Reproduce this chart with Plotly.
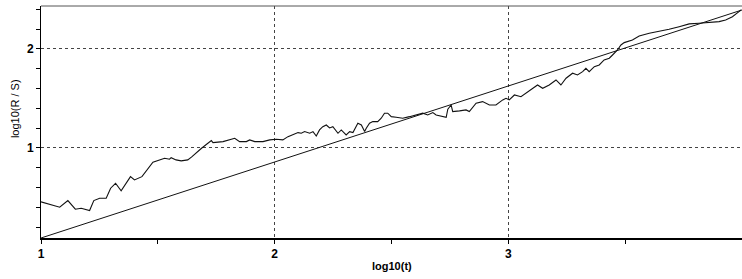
import plotly.graph_objects as go

# Rescaled range curve: log10(t) vs log10(R/S)
log_t = [1.000, 1.080, 1.115, 1.147, 1.172, 1.208, 1.226, 1.251, 1.279, 1.298,
         1.319, 1.343, 1.383, 1.400, 1.432, 1.457, 1.479, 1.529, 1.550, 1.557,
         1.578, 1.600, 1.628, 1.645, 1.667, 1.687, 1.729, 1.736, 1.779, 1.829,
         1.850, 1.879, 1.893, 1.915, 1.950, 1.979, 2.007, 2.035, 2.057, 2.078,
         2.100, 2.114, 2.128, 2.150, 2.164, 2.178, 2.192, 2.206, 2.221, 2.235,
         2.249, 2.271, 2.285, 2.306, 2.321, 2.335, 2.356, 2.371, 2.385, 2.392,
         2.406, 2.420, 2.441, 2.456, 2.470, 2.484, 2.499, 2.520, 2.548, 2.577,
         2.606, 2.634, 2.655, 2.677, 2.691, 2.719, 2.734, 2.741, 2.755, 2.762,
         2.777, 2.791, 2.819, 2.833, 2.862, 2.890, 2.919, 2.947, 2.976, 2.990,
         3.004, 3.026, 3.054, 3.076, 3.097, 3.125, 3.147, 3.175, 3.204, 3.225,
         3.247, 3.275, 3.296, 3.318, 3.332, 3.346, 3.368, 3.389, 3.410, 3.432,
         3.446, 3.467, 3.482, 3.496, 3.531, 3.560, 3.603, 3.645, 3.688, 3.731,
         3.774, 3.816, 3.859, 3.902, 3.930, 3.959, 3.987, 3.996]
log_rs = [0.455, 0.401, 0.468, 0.381, 0.391, 0.367, 0.468, 0.492, 0.492, 0.593,
          0.643, 0.566, 0.710, 0.677, 0.710, 0.785, 0.856, 0.896, 0.886, 0.902,
          0.879, 0.869, 0.879, 0.909, 0.960, 0.997, 1.074, 1.054, 1.064, 1.098,
          1.064, 1.064, 1.081, 1.064, 1.064, 1.081, 1.088, 1.081, 1.114, 1.131,
          1.155, 1.148, 1.165, 1.148, 1.165, 1.121, 1.182, 1.215, 1.232, 1.202,
          1.215, 1.148, 1.182, 1.131, 1.165, 1.155, 1.249, 1.232, 1.165, 1.199,
          1.249, 1.266, 1.266, 1.300, 1.351, 1.351, 1.316, 1.310, 1.300, 1.316,
          1.333, 1.351, 1.333, 1.357, 1.333, 1.316, 1.310, 1.391, 1.434, 1.367,
          1.367, 1.374, 1.384, 1.367, 1.452, 1.468, 1.434, 1.434, 1.485, 1.502,
          1.485, 1.535, 1.518, 1.553, 1.586, 1.636, 1.603, 1.636, 1.687, 1.636,
          1.704, 1.755, 1.737, 1.771, 1.805, 1.771, 1.821, 1.838, 1.889, 1.906,
          1.939, 1.990, 2.040, 2.064, 2.091, 2.131, 2.159, 2.175, 2.199, 2.225,
          2.253, 2.260, 2.266, 2.276, 2.293, 2.326, 2.377, 2.394]

# Fitted line end points
fit_x = [1.0, 4.0]
fit_y = [0.09, 2.394]

x_range = [1.0, 4.0]
y_range = [0.09, 2.434]

fig = go.Figure()
fig.add_trace(go.Scatter(x=fit_x, y=fit_y, mode="lines",
                         line=dict(color="#111111", width=1), showlegend=False))
fig.add_trace(go.Scatter(x=log_t, y=log_rs, mode="lines",
                         line=dict(color="#111111", width=1.1), showlegend=False))

tick_font = dict(family="Liberation Sans", size=12, color="black", weight="bold")

fig.update_xaxes(range=x_range, tick0=1, dtick=1, ticks="outside", ticklen=4,
                 tickwidth=1, tickcolor="black", automargin=False,
                 showline=True, linewidth=2, linecolor="black",
                 showgrid=True, gridcolor="#444444", gridwidth=1, griddash="3px,3px",
                 zeroline=False, tickfont=tick_font, tickformat="d",
                 minor=dict(dtick=0.5, tick0=1, ticks="outside", ticklen=4,
                            tickcolor="black", showgrid=False))
fig.update_yaxes(range=y_range, tick0=0, dtick=1, ticks="outside", ticklen=4,
                 tickwidth=1, tickcolor="black", automargin=False,
                 showline=True, linewidth=1, linecolor="black",
                 showgrid=True, gridcolor="#444444", gridwidth=1, griddash="3px,3px",
                 zeroline=False, tickfont=tick_font, tickformat="d",
                 minor=dict(dtick=0.2, tick0=0, ticks="outside", ticklen=4,
                            tickcolor="black", showgrid=False))

fig.add_shape(type="line", xref="paper", yref="paper", x0=0, x1=1, y0=1, y1=1,
              line=dict(color="#555555", width=1))

fig.add_annotation(text="log10(t)", xref="paper", yref="paper",
                   x=0.5, y=-0.12, yanchor="middle", showarrow=False,
                   font=dict(family="Liberation Sans Narrow, Liberation Sans", size=11,
                             color="black", weight="bold"))
fig.add_annotation(text="log10(R / S)", xref="paper", yref="paper",
                   x=-0.037, y=0.556, textangle=-90, xanchor="center", yanchor="middle",
                   showarrow=False,
                   font=dict(family="Liberation Sans", size=11, color="black"))

fig.update_layout(width=742, height=279,
                  margin=dict(l=41, r=0, t=6, b=41),
                  paper_bgcolor="white", plot_bgcolor="white",
                  font=dict(family="Liberation Sans", size=11, color="black"))

fig.write_html("out.html", config={"displayModeBar": False},
               post_script="document.body.style.margin='0';document.body.style.overflow='hidden';")
